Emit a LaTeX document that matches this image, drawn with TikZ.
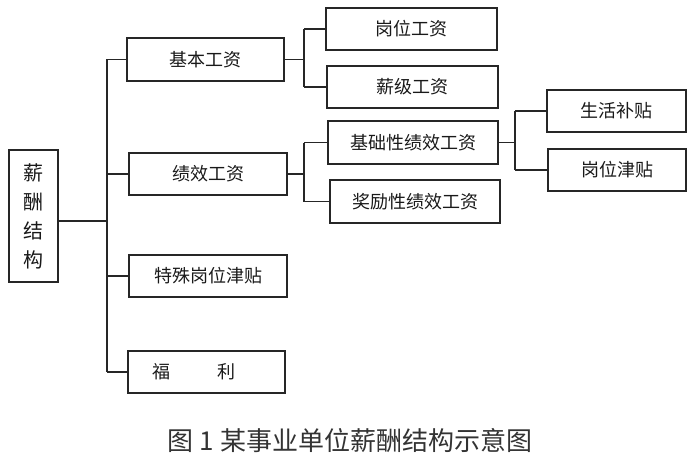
\documentclass[tikz,border=0pt]{standalone}
\usepackage{fontspec}
\setmainfont{Noto Sans CJK SC}

\begin{document}
\begin{tikzpicture}[x=1pt, y=-1pt,
		box/.style={draw=black!85, line width=1.3pt, inner sep=0pt, text=black!90,
			font=\fontsize{18}{20}\selectfont},
		link/.style={draw=black!85, line width=1.3pt}]
		\useasboundingbox (0,0) rectangle (700,468);

		%% Root
		\node[box, minimum width=49pt, minimum height=132pt, align=center,
			font=\fontsize{20}{29}\selectfont] (root) at (33.5,216) {薪\\酬\\结\\构};

		% FIRST LEVEL
		\node[box, minimum width=157pt, minimum height=43pt] (jiben) at (205.5,59.5) {基本工资};
		\node[box, minimum width=158pt, minimum height=42pt] (jixiao) at (208,174) {绩效工资};
		\node[box, minimum width=158pt, minimum height=42pt] (teshu) at (208,276) {特殊岗位津贴};
		\node[box, minimum width=157pt, minimum height=42pt, text width=157pt, align=left] (fuli) at (206.5,372)
			{\hspace*{24pt}福\hspace{48pt}利};

		% SECOND LEVEL
		\node[box, minimum width=171pt, minimum height=42pt] (gangwei) at (411.5,29) {岗位工资};
		\node[box, minimum width=171pt, minimum height=42pt] (xinji) at (412.5,87) {薪级工资};
		\node[box, minimum width=170pt, minimum height=43pt] (jichu) at (413,142.5) {基础性绩效工资};
		\node[box, minimum width=170pt, minimum height=43pt] (jiangli) at (415,201.5) {奖励性绩效工资};

		% THIRD LEVEL
		\node[box, minimum width=139pt, minimum height=42pt] (shenghuo) at (616.5,111) {生活补贴};
		\node[box, minimum width=138pt, minimum height=42pt] (jintie) at (617,170) {岗位津贴};

		%% Connectors
		\coordinate (trunk) at (107,221);
		\coordinate (subA) at (304,61);
		\coordinate (subB) at (304,174);
		\coordinate (subC) at (515,141);

		% root to first level
		\draw[link] (root.east |- trunk) -- (trunk);
		\draw[link] (trunk |- jiben.west) -- (trunk |- fuli.west);
		\draw[link] (jiben.west) -- (trunk |- jiben.west);
		\draw[link] (jixiao.west) -- (trunk |- jixiao.west);
		\draw[link] (teshu.west) -- (trunk |- teshu.west);
		\draw[link] (fuli.west) -- (trunk |- fuli.west);

		% basic pay
		\draw[link] (jiben.east) -- (jiben.east -| subA);
		\draw[link] (subA |- gangwei.west) -- (subA |- xinji.west);
		\draw[link] (gangwei.west) -- (subA |- gangwei.west);
		\draw[link] (xinji.west) -- (subA |- xinji.west);

		% performance pay
		\draw[link] (jixiao.east) -- (jixiao.east -| subB);
		\draw[link] (subB |- jichu.west) -- (subB |- jiangli.west);
		\draw[link] (jichu.west) -- (subB |- jichu.west);
		\draw[link] (jiangli.west) -- (subB |- jiangli.west);

		% basic performance pay
		\draw[link] (jichu.east) -- (jichu.east -| subC);
		\draw[link] (subC |- shenghuo.west) -- (subC |- jintie.west);
		\draw[link] (shenghuo.west) -- (subC |- shenghuo.west);
		\draw[link] (jintie.west) -- (subC |- jintie.west);

		%% Caption
		\node[text=black!80, font=\fontsize{26}{30}\selectfont] (caption) at (350,441)
			{图 1 某事业单位薪酬结构示意图};
	\end{tikzpicture}
\end{document}
